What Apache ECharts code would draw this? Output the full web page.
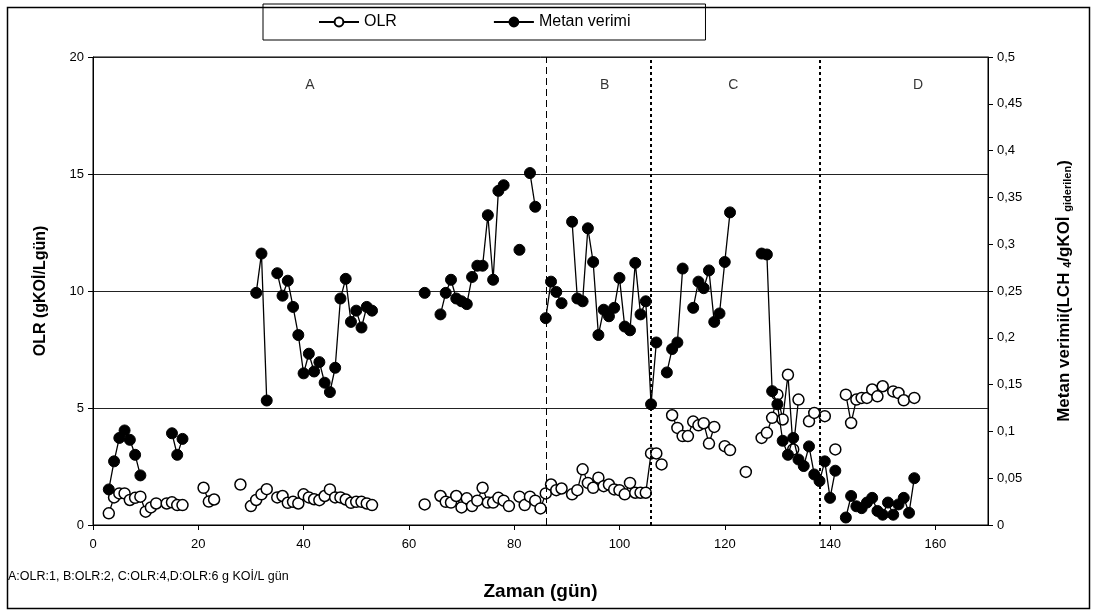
<!DOCTYPE html>
<html>
<head>
<meta charset="utf-8">
<script src="https://cdn.jsdelivr.net/npm/echarts@6/dist/echarts.min.js"></script>
<style>
  html, body { margin: 0; padding: 0; background: #fff; }
  #chart { width: 1093px; height: 612px; }
</style>
</head>
<body>
<div id="chart"></div>
<script>
// Organic loading rate (left axis, gKOİ/L·gün) by day
const olrDays = [3,4,5,6,7,8,9,10,11,12,14,15,16,17,21,22,23,28,30,31,32,33,35,36,37,38,39,40,41,42,43,44,45,46,47,48,49,50,51,52,53,
  63,66,67,68,69,70,71,72,73,74,75,76,77,78,79,81,82,83,84,85,86,87,88,89,91,92,93,94,95,96,97,98,99,100,101,102,103,104,105,106,107,108,
  110,111,112,113,114,115,116,117,118,120,121,124,127,128,129,130,131,132,133,134,136,137,139,141,143,144,145,146,147,148,149,150,152,153,154,156];
const olrValues = [0.50,1.18,1.35,1.35,1.07,1.16,1.21,0.57,0.75,0.92,0.92,0.97,0.85,0.85,1.59,1.00,1.09,1.73,0.81,1.07,1.31,1.53,1.18,1.24,0.95,0.99,0.92,1.31,1.18,1.10,1.06,1.24,1.52,1.18,1.18,1.09,0.95,0.99,0.99,0.92,0.85,
  0.88,1.24,0.99,0.96,1.24,0.75,1.14,0.81,1.04,1.59,0.96,0.96,1.16,1.04,0.81,1.21,0.85,1.21,1.04,0.71,1.35,1.73,1.49,1.56,1.31,1.49,2.38,1.80,1.59,2.02,1.66,1.73,1.52,1.49,1.31,1.80,1.38,1.38,1.38,3.06,3.06,2.59,
  4.69,4.15,3.80,3.80,4.42,4.26,4.35,3.48,4.19,3.37,3.20,2.27,3.72,3.94,4.58,5.57,4.51,6.42,3.23,5.36,4.43,4.79,4.65,3.23,5.57,4.36,5.36,5.43,5.43,5.79,5.50,5.93,5.71,5.64,5.33,5.43];

// Methane yield (right axis, L CH4 / g KOİ removed) by day
const metanDays = [3,4,5,6,7,8,9,15,16,17,31,32,33,35,36,37,38,39,40,41,42,43,44,45,46,47,48,49,50,51,52,53,
  63,66,67,68,69,70,71,72,73,74,75,76,77,78,81,83,84,86,87,88,89,91,92,93,94,95,96,97,98,99,100,101,102,103,104,105,106,107,
  109,110,111,112,114,115,116,117,118,119,120,121,127,128,129,130,131,132,133,134,135,136,137,138,139,140,141,
  143,144,145,146,147,148,149,150,151,152,153,154,155,156];
const metanValues = [0.038,0.068,0.093,0.101,0.091,0.075,0.053,0.098,0.075,0.092,0.248,0.290,0.133,0.269,0.245,0.261,0.233,0.203,0.162,0.183,0.164,0.174,0.152,0.142,0.168,0.242,0.263,0.217,0.229,0.211,0.233,0.229,
  0.248,0.225,0.248,0.262,0.242,0.239,0.236,0.265,0.277,0.277,0.331,0.262,0.357,0.363,0.294,0.376,0.340,0.221,0.260,0.249,0.237,0.324,0.242,0.239,0.317,0.281,0.203,0.230,0.223,0.232,0.264,0.212,0.208,0.280,0.225,0.239,0.129,0.195,
  0.163,0.188,0.195,0.274,0.232,0.260,0.253,0.272,0.217,0.226,0.281,0.334,0.290,0.289,0.143,0.129,0.090,0.075,0.093,0.070,0.063,0.084,0.054,0.047,0.068,0.029,0.058,
  0.008,0.031,0.020,0.018,0.024,0.029,0.015,0.011,0.024,0.011,0.022,0.029,0.013,0.050];

// Period boundaries (days) and period labels
const boundaryDays = [86, 106, 138];
const boundaryStyles = ['dashed', 'dotted', 'dotted'];
const periodNames = ['A', 'B', 'C', 'D'];
const periodLabelDays = [41.2, 97.2, 121.6, 156.7];
const periodLabelOlr = [18.8, 18.8, 18.8, 18.8];

const xTicks = [0, 20, 40, 60, 80, 100, 120, 140, 160];

// Consecutive days are joined; a missing day breaks the line
function withGaps(days, vals) {
  const out = [];
  for (let i = 0; i < days.length; i++) {
    if (i > 0 && days[i] - days[i - 1] > 1) out.push([days[i - 1] + 1, null]);
    out.push([days[i], vals[i]]);
  }
  return out;
}

const FONT = '"Liberation Sans", Arial, sans-serif';
const chart = echarts.init(document.getElementById('chart'), null, { renderer: 'canvas' });

chart.setOption({
  animation: false,
  backgroundColor: '#fff',
  textStyle: { fontFamily: FONT, color: '#000' },
  grid: {
    left: 93, right: 105, top: 57, bottom: 87,
    show: true, borderColor: '#000', borderWidth: 1, backgroundColor: 'transparent'
  },
  legend: {
    left: 263, top: 4,
    itemWidth: 40, itemHeight: 11, itemGap: 96,
    padding: [10, 75, 10, 55],
    borderColor: '#000', borderWidth: 1,
    textStyle: { fontFamily: FONT, fontSize: 16, color: '#000' },
    data: ['OLR', 'Metan verimi']
  },
  xAxis: {
    type: 'value', min: 0, max: 170, interval: 20,
    name: 'Zaman (gün)', nameLocation: 'middle', nameGap: 57,
    nameTextStyle: { fontFamily: FONT, fontSize: 19, fontWeight: 'bold', color: '#000' },
    axisLine: { lineStyle: { color: '#000', width: 1 } },
    axisTick: { customValues: xTicks, length: 5, lineStyle: { color: '#000' } },
    axisLabel: { customValues: xTicks, fontSize: 13, color: '#000', margin: 13 },
    splitLine: { show: false }
  },
  yAxis: [
    {
      type: 'value', min: 0, max: 20, interval: 5, position: 'left',
      name: 'OLR (gKOİ/Lgün)', nameLocation: 'middle', nameGap: 44, nameRotate: 90,
      nameTextStyle: { fontFamily: FONT, fontSize: 16, fontWeight: 'bold', color: '#000' },
      axisLine: { show: true, lineStyle: { color: '#000', width: 1 } },
      axisTick: { show: true, length: 5, lineStyle: { color: '#000' } },
      axisLabel: { fontSize: 13, color: '#000', margin: 9 },
      splitLine: { show: true, lineStyle: { color: '#222', width: 1 } }
    },
    {
      type: 'value', min: 0, max: 0.5, interval: 0.05, position: 'right',
      name: '{m|Metan verimii(LCH }{s|4}{m|/gKOİ }{s|giderilen}{m|)}',
      nameLocation: 'middle', nameGap: 68, nameRotate: 90,
      nameTextStyle: {
        rich: {
          m: { fontFamily: FONT, fontSize: 17, fontWeight: 'bold', color: '#000' },
          s: { fontFamily: FONT, fontSize: 11, fontWeight: 'bold', color: '#000', verticalAlign: 'bottom', padding: [6, 0, 0, 0] }
        }
      },
      axisLine: { show: true, lineStyle: { color: '#000', width: 1 } },
      axisTick: { show: true, length: 5, lineStyle: { color: '#000' } },
      axisLabel: {
        fontSize: 13, color: '#000', margin: 9,
        formatter: v => String(parseFloat(v.toFixed(2))).replace('.', ',')
      },
      splitLine: { show: false }
    }
  ],
  series: [
    {
      name: 'OLR', type: 'line', yAxisIndex: 0,
      data: withGaps(olrDays, olrValues),
      symbol: 'circle', symbolSize: 11, showSymbol: true,
      lineStyle: { color: '#000', width: 1.3 },
      itemStyle: { color: '#fff', borderColor: '#000', borderWidth: 1.5 },
      markLine: {
        silent: true, symbol: 'none', label: { show: false },
        data: boundaryDays.map((d, i) => ({
          xAxis: d,
          lineStyle: boundaryStyles[i] === 'dashed'
            ? { color: '#000', width: 1, type: [7, 4] }
            : { color: '#000', width: 2, type: [3, 3] }
        }))
      },
      z: 3
    },
    {
      name: 'Metan verimi', type: 'line', yAxisIndex: 1,
      data: withGaps(metanDays, metanValues),
      symbol: 'circle', symbolSize: 11, showSymbol: true,
      lineStyle: { color: '#000', width: 1.3 },
      itemStyle: { color: '#000', borderColor: '#000', borderWidth: 1 },
      z: 4
    },
    {
      name: 'periods', type: 'scatter', yAxisIndex: 0,
      symbolSize: 0, silent: true,
      data: periodNames.map((n, i) => [periodLabelDays[i], periodLabelOlr[i], n]),
      label: {
        show: true, position: 'inside',
        formatter: p => p.data[2],
        fontFamily: FONT, fontSize: 14, color: '#000'
      }
    }
  ],
  graphic: [
    {
      type: 'rect', left: 5, top: 5, silent: true, z: -1,
      shape: { width: 1082, height: 601 },
      style: { fill: 'none', stroke: '#000', lineWidth: 1.5 }
    },
    {
      type: 'text', left: 8, top: 570,
      style: { text: 'A:OLR:1, B:OLR:2, C:OLR:4,D:OLR:6 g KOİ/L gün', font: '12.5px ' + FONT, fill: '#000' }
    }
  ]
});
</script>
</body>
</html>
